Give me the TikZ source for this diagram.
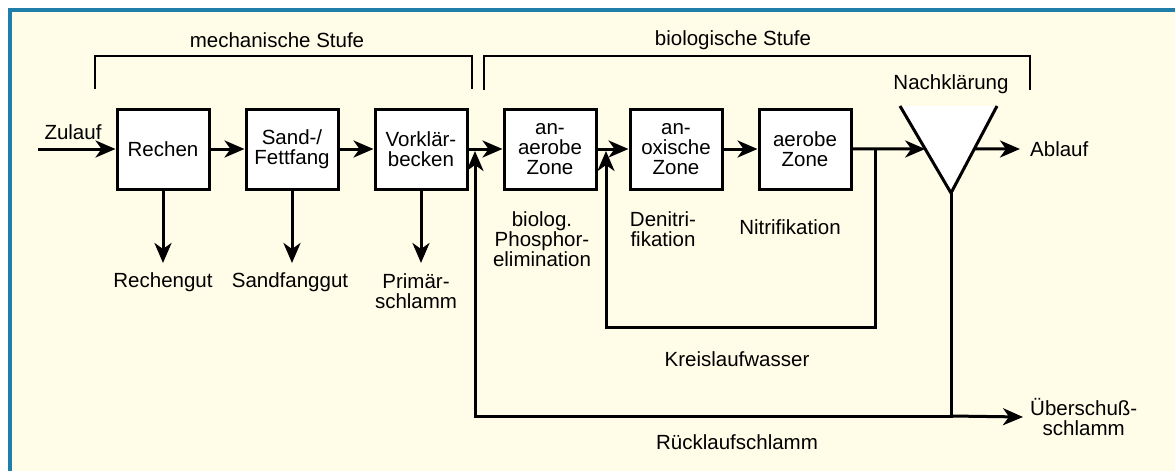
\documentclass[tikz,border=0pt]{standalone}
\usepackage{fontspec}
\setmainfont{Liberation Sans}
\usepackage{xcolor}
\usepackage{tikz}
\usetikzlibrary{arrows.meta, positioning, calc}

\definecolor{cream}{HTML}{FFFCE8}
\definecolor{frameblue}{HTML}{1F7EAA}

\begin{document}
\begin{tikzpicture}[
    x=1pt, y=-1pt,
    node distance=34pt,
    every node/.style={font=\fontsize{20.5}{20}\selectfont},
    box/.style={rectangle, draw, line width=3pt, fill=white, align=center,
                minimum width=92pt, minimum height=80pt, inner sep=0pt},
    lbl/.style={align=center, inner sep=0pt},
    arrow/.style={line width=3pt, -{Stealth[length=20pt, width=17pt, inset=6pt]}},
    bracket/.style={line width=2.5pt}
  ]

  % frame
  \useasboundingbox (0,0) rectangle (1175,471);
  \fill[white] (0,0) rectangle (1175,471);
  \fill[cream] (10,10) rectangle (1175,471);
  \draw[frameblue, line width=3.3pt] (10,471) -- (10,10) -- (1175,10);

  % stage brackets
  \draw[bracket] (95,89) |- (472,56) -- (472,89);
  \draw[bracket] (484,90) |- (1030,56) -- (1030,90);
  \node[lbl] (mech) at (277,40) {mechanische Stufe};
  \node[lbl] (bio) at (733,40) {biologische Stufe};

  % process boxes
  \node[box] (rechen) at (163,149) {Rechen};
  \node[box, right=of rechen] (sand) {Sand-/\\Fettfang};
  \node[box, right=of sand] (vorklaer) {Vorklär-\\becken};
  \node[box, right=of vorklaer] (anaerob) {an-\\aerobe\\Zone};
  \node[box, right=31pt of anaerob] (anoxisch) {an-\\oxische\\Zone};
  \node[box, right=of anoxisch] (aerob) {aerobe\\Zone};

  % Nachklaerung
  \coordinate (nktl) at (900,106);
  \coordinate (nktr) at (997,106);
  \coordinate (nkb) at (951,193);
  \filldraw[fill=white, line width=3pt] (nktl) -- (nkb) -- (nktr);
  \coordinate (nkin) at ($(nktl)!0.494!(nkb)$);
  \coordinate (nkout) at ($(nktr)!0.494!(nkb)$);
  \node[lbl] (nklbl) at (951,84) {Nachklärung};

  % labels
  \node[lbl] (zulauflbl) at (73,132) {Zulauf};
  \node[lbl] (rechengut) at (163,282) {Rechengut};
  \node[lbl] (sandgut) at (290,282) {Sandfanggut};
  \node[lbl] (primaer) at (416,291) {Primär-\\schlamm};
  \node[lbl] (phosphor) at (542,239) {biolog.\\Phosphor-\\elimination};
  \node[lbl] (denitri) at (663,229) {Denitri-\\fikation};
  \node[lbl] (nitri) at (790,227) {Nitrifikation};
  \node[lbl] (kreislbl) at (737,359) {Kreislaufwasser};
  \node[lbl] (ruecklbl) at (737,442) {Rücklaufschlamm};
  \node[lbl, anchor=west] (ablauf) at (1030,149) {Ablauf};
  \node[lbl, anchor=west] (ueber) at (1030,417) {Überschuß-\\schlamm};

  % free ends
  \coordinate (zulauf) at (38,149);
  \coordinate (resid) at (0,263);
  \coordinate (split) at (875,149);
  \coordinate (krl) at (606,327);
  \coordinate (kin) at (606,151);
  \coordinate (rlb) at (475,416);
  \coordinate (rin) at (475,151);

  % main flow
  \draw[arrow] (zulauf) -- (rechen);
  \draw[arrow] (rechen) -- (sand);
  \draw[arrow] (sand) -- (vorklaer);
  \draw[arrow] (vorklaer) -- (anaerob);
  \draw[arrow] (anaerob) -- (anoxisch);
  \draw[arrow] (anoxisch) -- (aerob);
  \draw[arrow] (aerob) -- (nkin);
  \draw[arrow] (nkout) -- ([xshift=-10pt]ablauf.west);

  % residues
  \draw[arrow] (rechen.south) -- (rechen.south |- resid);
  \draw[arrow] (sand.south) -- (sand.south |- resid);
  \draw[arrow] (vorklaer.south) -- (vorklaer.south |- resid);

  % recirculation
  \draw[arrow] (split) |- (krl) -- (kin);
  \draw[arrow] (nkb) |- (rlb) -- (rin);
  \draw[arrow] (nkb |- rlb) -- ([xshift=-7pt]ueber.west);

\end{tikzpicture}
\end{document}
